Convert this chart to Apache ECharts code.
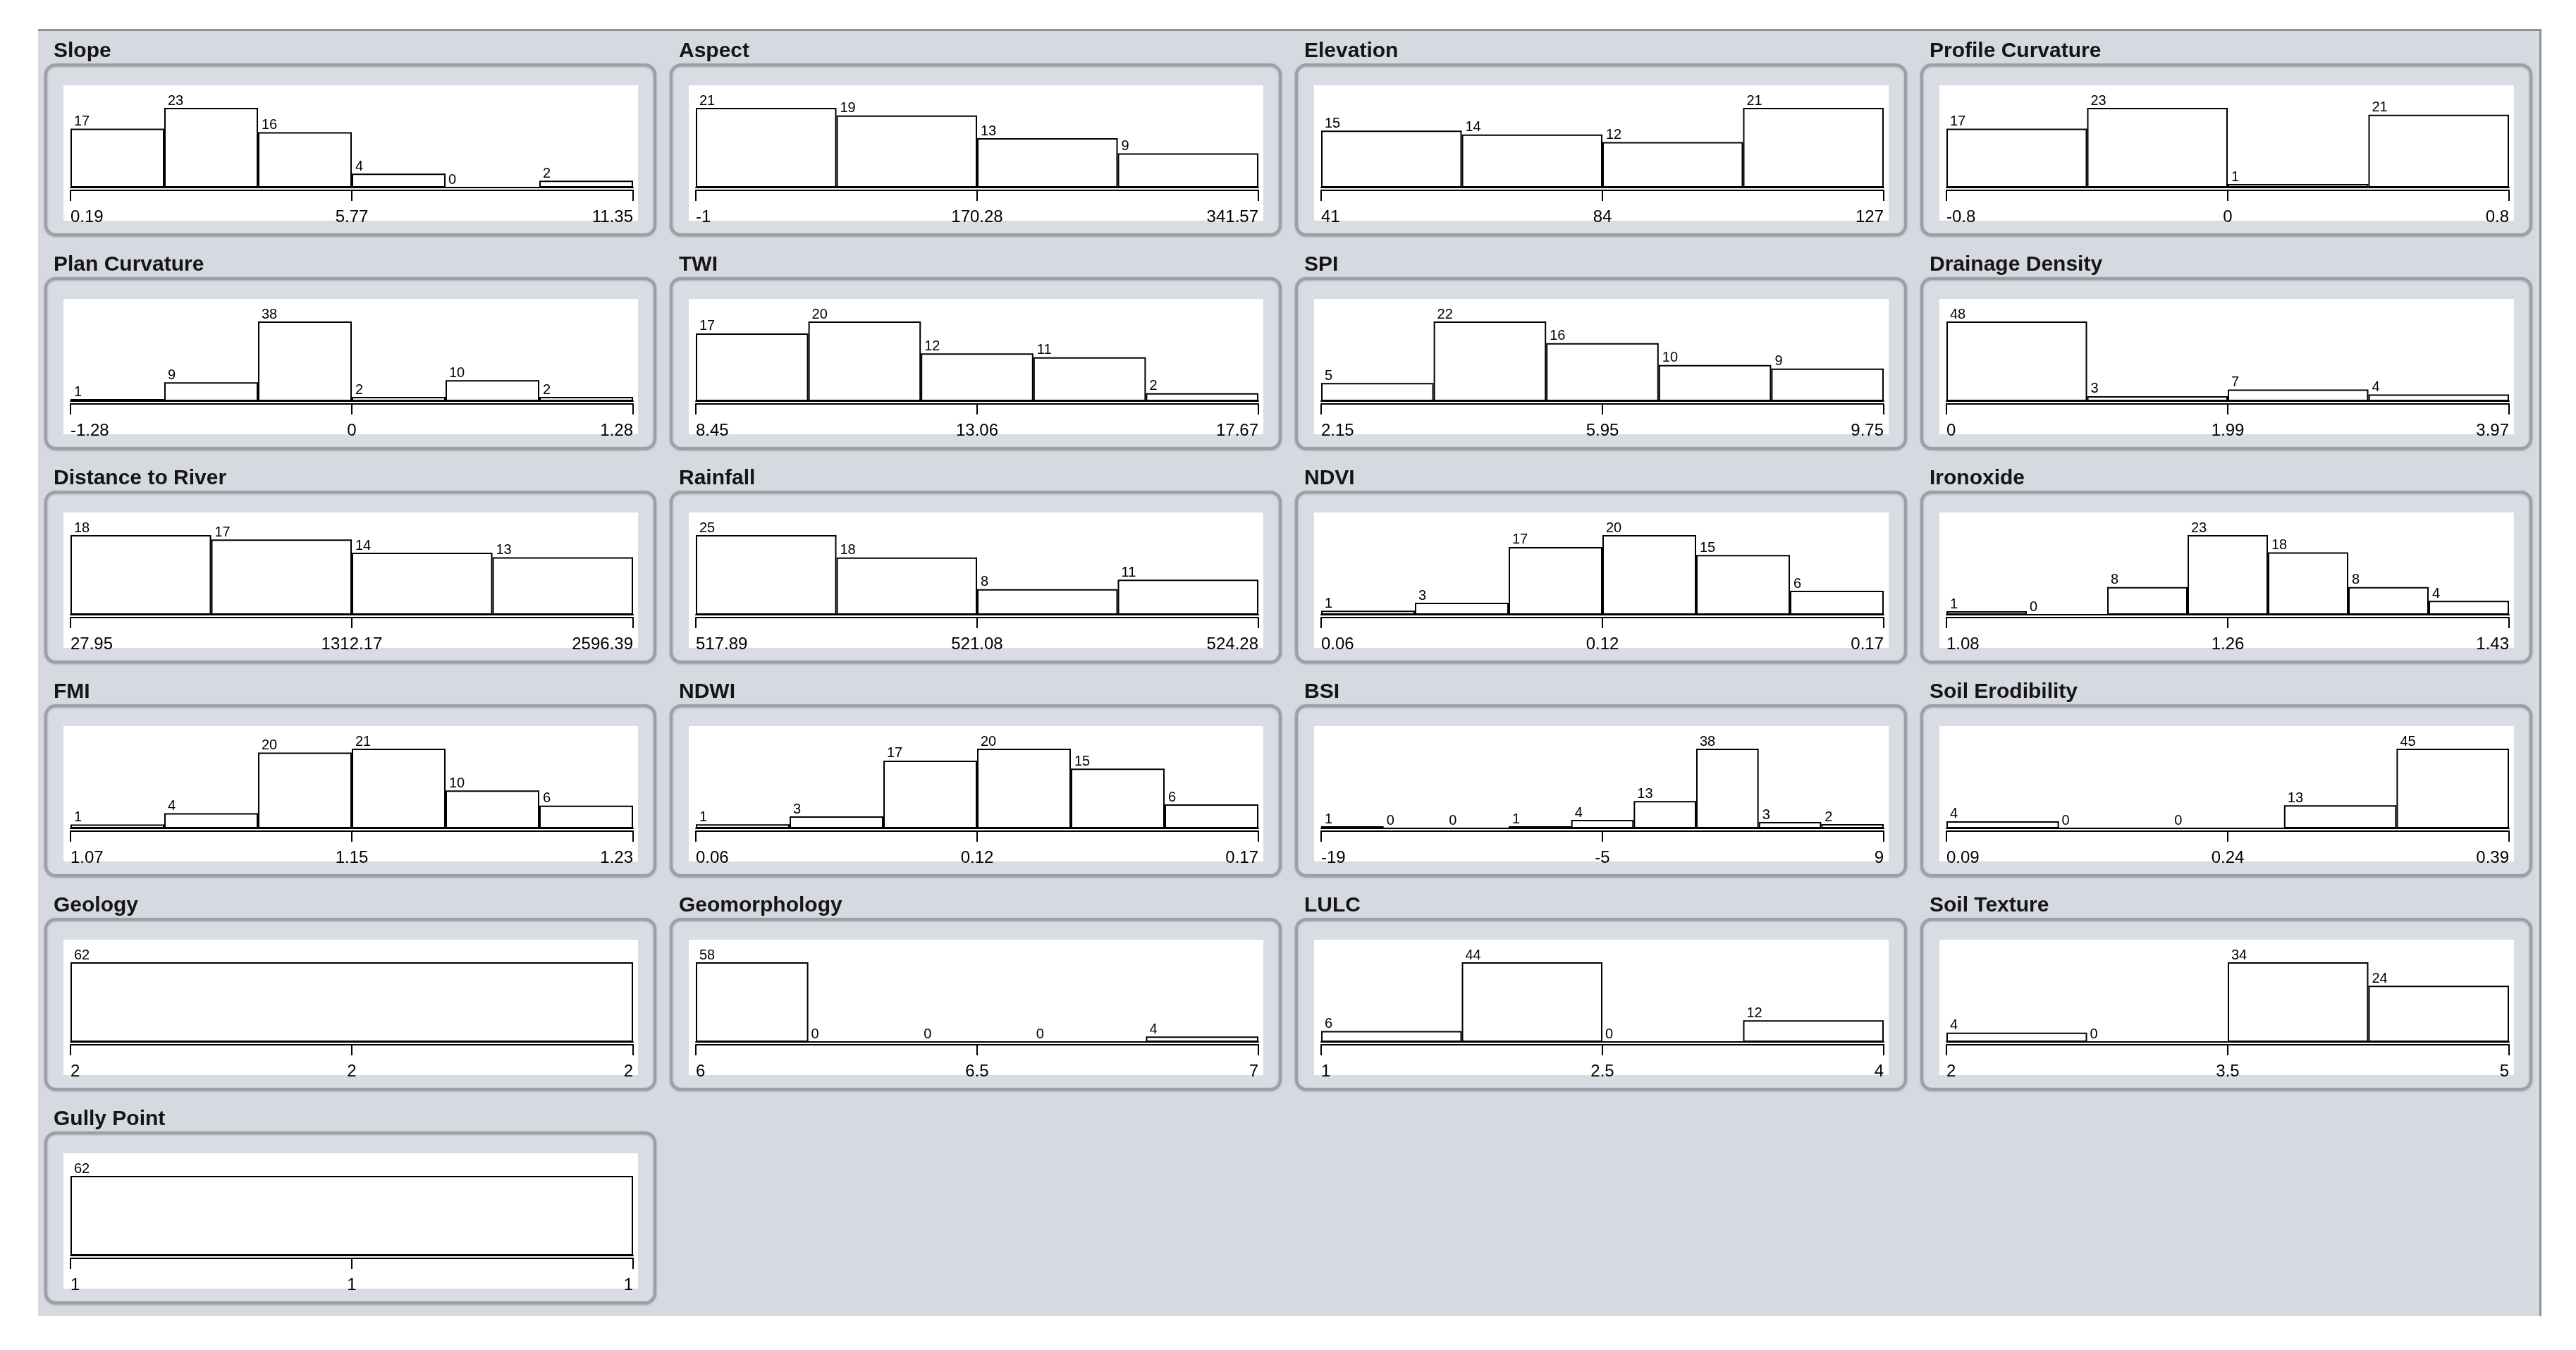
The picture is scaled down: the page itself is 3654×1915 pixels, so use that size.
<!DOCTYPE html>
<html>
<head>
<meta charset="utf-8">
<script src="https://cdn.jsdelivr.net/npm/echarts/dist/echarts.min.js"></script>
<style>
  html, body { margin: 0; padding: 0; background: #ffffff; }
  #main { width: 3654px; height: 1915px; }
</style>
</head>
<body>
<div id="main"></div>
<script>
// attribute names, in the order of the panels (left to right, top to bottom)
const attrNames = [
    'Slope', 'Aspect', 'Elevation', 'Profile Curvature',
    'Plan Curvature', 'TWI', 'SPI', 'Drainage Density',
    'Distance to River', 'Rainfall', 'NDVI', 'Ironoxide',
    'FMI', 'NDWI', 'BSI', 'Soil Erodibility',
    'Geology', 'Geomorphology', 'LULC', 'Soil Texture',
    'Gully Point'
];

// bin counts of every histogram
const slopeCounts     = [17, 23, 16, 4, 0, 2];
const aspectCounts    = [21, 19, 13, 9];
const elevationCounts = [15, 14, 12, 21];
const profileCounts   = [17, 23, 1, 21];
const planCounts      = [1, 9, 38, 2, 10, 2];
const twiCounts       = [17, 20, 12, 11, 2];
const spiCounts       = [5, 22, 16, 10, 9];
const drainageCounts  = [48, 3, 7, 4];
const riverCounts     = [18, 17, 14, 13];
const rainfallCounts  = [25, 18, 8, 11];
const ndviCounts      = [1, 3, 17, 20, 15, 6];
const ironCounts      = [1, 0, 8, 23, 18, 8, 4];
const fmiCounts       = [1, 4, 20, 21, 10, 6];
const ndwiCounts      = [1, 3, 17, 20, 15, 6];
const bsiCounts       = [1, 0, 0, 1, 4, 13, 38, 3, 2];
const erodCounts      = [4, 0, 0, 13, 45];
const geologyCounts   = [62];
const geomorphCounts  = [58, 0, 0, 0, 4];
const lulcCounts      = [6, 44, 0, 12];
const textureCounts   = [4, 0, 34, 24];
const gullyCounts     = [62];

// tick labels: min, middle, max
const slopeTicks     = ['0.19', '5.77', '11.35'];
const aspectTicks    = ['-1', '170.28', '341.57'];
const elevationTicks = ['41', '84', '127'];
const profileTicks   = ['-0.8', '0', '0.8'];
const planTicks      = ['-1.28', '0', '1.28'];
const twiTicks       = ['8.45', '13.06', '17.67'];
const spiTicks       = ['2.15', '5.95', '9.75'];
const drainageTicks  = ['0', '1.99', '3.97'];
const riverTicks     = ['27.95', '1312.17', '2596.39'];
const rainfallTicks  = ['517.89', '521.08', '524.28'];
const ndviTicks      = ['0.06', '0.12', '0.17'];
const ironTicks      = ['1.08', '1.26', '1.43'];
const fmiTicks       = ['1.07', '1.15', '1.23'];
const ndwiTicks      = ['0.06', '0.12', '0.17'];
const bsiTicks       = ['-19', '-5', '9'];
const erodTicks      = ['0.09', '0.24', '0.39'];
const geologyTicks   = ['2', '2', '2'];
const geomorphTicks  = ['6', '6.5', '7'];
const lulcTicks      = ['1', '2.5', '4'];
const textureTicks   = ['2', '3.5', '5'];
const gullyTicks     = ['1', '1', '1'];

const allCounts = [
    slopeCounts, aspectCounts, elevationCounts, profileCounts,
    planCounts, twiCounts, spiCounts, drainageCounts,
    riverCounts, rainfallCounts, ndviCounts, ironCounts,
    fmiCounts, ndwiCounts, bsiCounts, erodCounts,
    geologyCounts, geomorphCounts, lulcCounts, textureCounts,
    gullyCounts
];
const allTicks = [
    slopeTicks, aspectTicks, elevationTicks, profileTicks,
    planTicks, twiTicks, spiTicks, drainageTicks,
    riverTicks, rainfallTicks, ndviTicks, ironTicks,
    fmiTicks, ndwiTicks, bsiTicks, erodTicks,
    geologyTicks, geomorphTicks, lulcTicks, textureTicks,
    gullyTicks
];

const FONT = '"Liberation Sans", Arial, sans-serif';
const BG = '#d6d9e0';

// panel layout
const colX = 65, colStep = 887, rowY = 92, rowStep = 303;
const panelW = 864, panelH = 241;

let grids = [], xAxes = [], yAxes = [], series = [], titles = [];

// window background
let graphics = [
    { type: 'rect', z: -20, shape: { x: 54, y: 43, width: 3551, height: 1824 }, style: { fill: BG } },
    { type: 'rect', z: -19, shape: { x: 54, y: 41, width: 3551, height: 3 }, style: { fill: '#8f9298' } },
    { type: 'rect', z: -19, shape: { x: 3602, y: 41, width: 3, height: 1826 }, style: { fill: '#8f9298' } }
];

attrNames.forEach(function (name, i) {
    let px = colX + (i % 4) * colStep;
    let py = rowY + Math.floor(i / 4) * rowStep;
    let counts = allCounts[i];
    let ticks = allTicks[i];

    // rounded panel + white plot area
    graphics.push({
        type: 'rect', z: -10,
        shape: { x: px, y: py, width: panelW, height: panelH, r: 14 },
        style: {
            fill: '#d9dce3', stroke: '#9c9fa6', lineWidth: 4,
            shadowBlur: 3, shadowColor: 'rgba(0,0,0,0.25)', shadowOffsetY: 1
        }
    });
    graphics.push({
        type: 'rect', z: -9,
        shape: { x: px + 25, y: py + 29, width: 815, height: 192 },
        style: { fill: '#ffffff' }
    });

    titles.push({
        text: name,
        left: px + 11,
        top: py - 34,
        padding: 0,
        textStyle: { fontSize: 30, fontWeight: 'bold', fontFamily: FONT, color: '#151515' }
    });

    grids.push({ left: px + 35, top: py + 61, width: 798, height: 113 });

    // bars sit on a category axis
    xAxes.push({
        type: 'category',
        gridIndex: i,
        data: counts.map(function (c, k) { return k; }),
        boundaryGap: true,
        axisLine: { show: true, lineStyle: { color: '#000', width: 2 } },
        axisTick: { show: false },
        axisLabel: { show: false },
        splitLine: { show: false }
    });
    // scale with min / mid / max ticks
    xAxes.push({
        type: 'value',
        gridIndex: i,
        position: 'bottom',
        offset: 4,
        min: 0,
        max: 2,
        interval: 1,
        axisLine: { show: true, lineStyle: { color: '#000', width: 2 } },
        axisTick: { show: true, inside: false, length: 15, lineStyle: { color: '#000', width: 2 } },
        splitLine: { show: false },
        axisLabel: {
            margin: 26,
            fontSize: 24,
            fontFamily: FONT,
            color: '#000',
            alignMinLabel: 'left',
            alignMaxLabel: 'right',
            formatter: function (v) { return ticks[Math.round(v)]; }
        }
    });
    yAxes.push({
        type: 'value',
        gridIndex: i,
        min: 0,
        max: Math.max.apply(null, counts),
        show: false
    });
    series.push({
        type: 'bar',
        xAxisIndex: 2 * i,
        yAxisIndex: i,
        data: counts,
        barCategoryGap: '0%',
        z: 5,
        itemStyle: { color: '#ffffff', borderColor: '#000000', borderWidth: 2 },
        label: {
            show: true,
            position: [5, 0],
            align: 'left',
            verticalAlign: 'bottom',
            fontSize: 20,
            fontFamily: FONT,
            color: '#000'
        },
        emphasis: { disabled: true },
        animation: false
    });
});

let myChart = echarts.init(document.getElementById('main'), null, { renderer: 'canvas' });
myChart.setOption({
    backgroundColor: '#ffffff',
    animation: false,
    title: titles,
    grid: grids,
    xAxis: xAxes,
    yAxis: yAxes,
    series: series,
    graphic: { elements: graphics }
});
</script>
</body>
</html>
